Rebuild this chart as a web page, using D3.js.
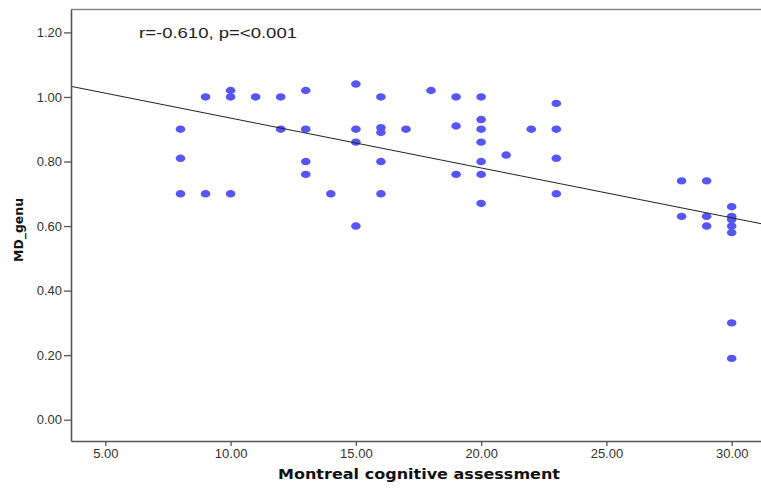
<!DOCTYPE html>
<html>
<head>
<meta charset="utf-8">
<script src="https://cdn.jsdelivr.net/npm/d3@7/dist/d3.min.js"></script>
<style>
  html, body { margin: 0; padding: 0; background: #fff; }
  svg { display: block; }
</style>
</head>
<body>
<svg id="chart" width="761" height="491"></svg>
<script>
// ---- data ----
const moca = [
  8, 8, 8,
  9, 9,
  10, 10, 10,
  11,
  12, 12,
  13, 13, 13, 13,
  14,
  15, 15, 15, 15,
  16, 16, 16, 16, 16,
  17,
  18,
  19, 19, 19,
  20, 20, 20, 20, 20, 20, 20,
  21,
  22,
  23, 23, 23, 23,
  28, 28,
  29, 29, 29,
  30, 30, 30, 30, 30, 30, 30
];
const mdGenu = [
  0.90, 0.81, 0.70,
  1.00, 0.70,
  1.02, 1.00, 0.70,
  1.00,
  1.00, 0.90,
  1.02, 0.90, 0.80, 0.76,
  0.70,
  1.04, 0.90, 0.86, 0.60,
  1.00, 0.905, 0.89, 0.80, 0.70,
  0.90,
  1.02,
  1.00, 0.91, 0.76,
  1.00, 0.93, 0.90, 0.86, 0.80, 0.76, 0.67,
  0.82,
  0.90,
  0.98, 0.90, 0.81, 0.70,
  0.74, 0.63,
  0.74, 0.63, 0.60,
  0.66, 0.63, 0.62, 0.60, 0.58, 0.30, 0.19
];
const xTicks = [5, 10, 15, 20, 25, 30];
const yTicks = [0, 0.2, 0.4, 0.6, 0.8, 1.0, 1.2];
const fitIntercept = 1.089;
const fitSlope = -0.01545;
const annotation = "r=-0.610, p=<0.001";
const xTitle = "Montreal cognitive assessment";
const yTitle = "MD_genu";

// ---- layout ----
const svg = d3.select("#chart");
const plotLeft = 71, plotRight = 761, plotTop = 9.5, plotBottom = 441;

const x = d3.scaleLinear().domain([3.63, 31.17]).range([plotLeft, plotRight]);
const y = d3.scaleLinear().domain([-0.066, 1.271]).range([plotBottom, plotTop]);

// frame (top border, gray)
svg.append("line")
  .attr("x1", plotLeft).attr("x2", 770)
  .attr("y1", plotTop).attr("y2", plotTop)
  .attr("stroke", "#8a8a8a").attr("stroke-width", 1.5);

// points
svg.append("g").selectAll("ellipse")
  .data(moca.map((m, i) => [m, mdGenu[i]]))
  .join("ellipse")
  .attr("cx", d => x(d[0]))
  .attr("cy", d => y(d[1]))
  .attr("rx", 4.8)
  .attr("ry", 3.7)
  .attr("fill", "#5656f4");

// fit line
const xd = x.domain();
svg.append("line")
  .attr("x1", x(xd[0])).attr("y1", y(fitIntercept + fitSlope * xd[0]))
  .attr("x2", x(xd[1])).attr("y2", y(fitIntercept + fitSlope * xd[1]))
  .attr("stroke", "#222").attr("stroke-width", 1);

// axes
const yAxis = svg.append("g")
  .attr("transform", `translate(${plotLeft},0)`)
  .call(d3.axisLeft(y).tickValues(yTicks).tickFormat(d3.format(".2f")).tickSize(7).tickPadding(2).tickSizeOuter(0));
const xAxis = svg.append("g")
  .attr("transform", `translate(0,${plotBottom})`)
  .call(d3.axisBottom(x).tickValues(xTicks).tickFormat(d3.format(".2f")).tickSize(5).tickPadding(3).tickSizeOuter(0));

[yAxis, xAxis].forEach(a => {
  a.select(".domain").attr("stroke", "#555").attr("stroke-width", 1.6);
  a.selectAll(".tick line").attr("stroke", "#555").attr("stroke-width", 1.3);
  a.selectAll(".tick text")
    .attr("fill", "#333")
    .style("font-family", "'Liberation Sans', Arial, sans-serif")
    .style("font-size", "13px");
});

// annotation
svg.append("text")
  .attr("x", 139).attr("y", 38)
  .attr("textLength", 158).attr("lengthAdjust", "spacingAndGlyphs")
  .attr("fill", "#222")
  .style("font-family", "'Liberation Sans', Arial, sans-serif")
  .style("font-size", "15px")
  .text(annotation);

// axis titles
svg.append("text")
  .attr("x", 419).attr("y", 479)
  .attr("text-anchor", "middle")
  .attr("textLength", 282).attr("lengthAdjust", "spacingAndGlyphs")
  .attr("fill", "#111")
  .style("font-family", "'DejaVu Sans', sans-serif")
  .style("font-weight", "bold")
  .style("font-size", "14px")
  .text(xTitle);

svg.append("text")
  .attr("transform", "translate(23,230) rotate(-90)")
  .attr("text-anchor", "middle")
  .attr("textLength", 64).attr("lengthAdjust", "spacingAndGlyphs")
  .attr("fill", "#111")
  .style("font-family", "'DejaVu Sans', sans-serif")
  .style("font-weight", "bold")
  .style("font-size", "13px")
  .text(yTitle);
</script>
</body>
</html>
